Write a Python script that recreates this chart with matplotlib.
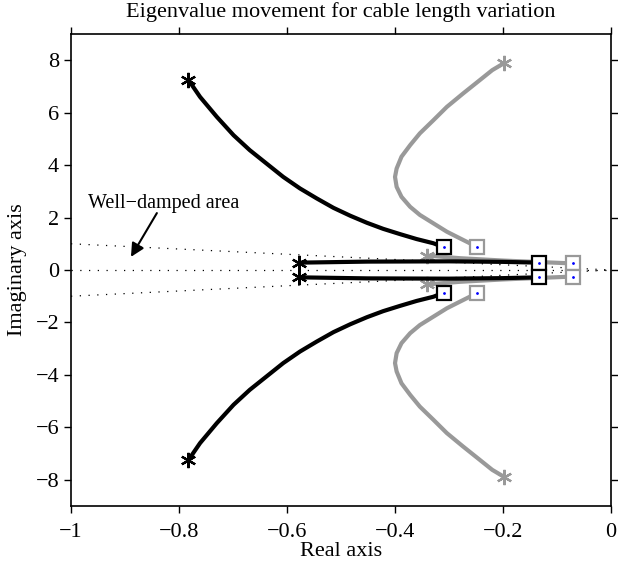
import numpy as np
import matplotlib
matplotlib.use("Agg")
from matplotlib import pyplot as plt

plt.rcParams['font.family'] = ['Liberation Serif', 'DejaVu Serif']
plt.rcParams['axes.unicode_minus'] = True

# upper branch of the black (first case) eigenvalue path, lower one is the mirror
black_re = [-0.783, -0.761, -0.730, -0.699, -0.669, -0.638, -0.607, -0.576, -0.545,
            -0.514, -0.483, -0.452, -0.422, -0.391, -0.360, -0.329, -0.309]
black_im = [7.26, 6.60, 5.84, 5.14, 4.57, 4.06, 3.55, 3.11, 2.73,
            2.37, 2.07, 1.80, 1.57, 1.37, 1.18, 1.02, 0.86]

# upper branch of the grey (second case) eigenvalue path
grey_re = [-0.198, -0.220, -0.243, -0.274, -0.304, -0.329, -0.354, -0.372, -0.388, -0.397,
           -0.400, -0.397, -0.388, -0.372, -0.354, -0.329, -0.304, -0.280, -0.249]
grey_im = [7.89, 7.62, 7.24, 6.73, 6.22, 5.71, 5.21, 4.76, 4.32, 3.87,
           3.55, 3.17, 2.79, 2.41, 2.10, 1.78, 1.46, 1.21, 0.89]

# low-frequency eigenvalues near the real axis
black_low_re = [-0.578, -0.45, -0.30, -0.20, -0.133]
black_low_im = [0.28, 0.32, 0.33, 0.31, 0.28]
grey_low_re = [-0.341, -0.28, -0.20, -0.13, -0.070]
grey_low_im = [0.55, 0.45, 0.36, 0.30, 0.25]

# damping limit lines (real part, imaginary part)
damp_re = [-1.0, 0.0]
damp_im = [1.0, 0.0]

fig = plt.figure(figsize=(6.18, 5.73), dpi=100)
ax = fig.add_axes([0.1149, 0.1169, 0.8738, 0.8238])

# dotted damping lines
for sign in (1, -1, 0):
    ax.plot(damp_re, [sign * v for v in damp_im], color='k', lw=0.9,
            linestyle=(0, (1, 6)), zorder=1)

def draw_path(re, im, color, z):
    re = np.array(re)
    im = np.array(im)
    for s in (1, -1):
        ax.plot(re, s * im, color=color, lw=3, solid_capstyle='round',
                solid_joinstyle='round', zorder=z)
        ax.plot(re[0], s * im[0], linestyle='none', marker=(6, 2, 0),
                ms=11, mew=1.6, color=color, zorder=z + 1)
        ax.plot(re[-1], s * im[-1], linestyle='none', marker='s', ms=10,
                mfc='white', mec=color, mew=1.6, zorder=z + 1)
        ax.plot(re[-1], s * im[-1], linestyle='none', marker='.', ms=2,
                color='blue', zorder=z + 2)

grey = '#999999'
draw_path(grey_re, grey_im, grey, 2)
draw_path(grey_low_re, grey_low_im, grey, 2)
draw_path(black_re, black_im, 'k', 5)
draw_path(black_low_re, black_low_im, 'k', 5)

ax.text(-0.969, 2.55, 'Well\u2212damped area', fontsize=14.5, va='center', ha='left')
ax.annotate('', xy=(-0.889, 0.50), xytext=(-0.841, 2.17),
            arrowprops=dict(arrowstyle='-|>', color='k', lw=1.5,
                            mutation_scale=20, shrinkA=0, shrinkB=0))

ax.set_xlim(-1, 0)
ax.set_ylim(-9, 9)
ax.set_xticks([-1, -0.8, -0.6, -0.4, -0.2, 0])
ax.set_xticklabels(['\u22121', '\u22120.8', '\u22120.6', '\u22120.4', '\u22120.2', '0'])
ax.set_yticks(range(-8, 9, 2))
ax.tick_params(direction='out', length=5, width=1, labelsize=16,
               top=True, right=True, labeltop=False, labelright=False)
ax.tick_params(axis='x', pad=7)
for sp in ax.spines.values():
    sp.set_linewidth(1.2)

ax.set_xlabel('Real axis', fontsize=16, labelpad=0)
ax.set_ylabel('Imaginary axis', fontsize=16, labelpad=6)
ax.set_title('Eigenvalue movement for cable length variation', fontsize=16, pad=12)

fig.savefig('out.png', dpi=100)
